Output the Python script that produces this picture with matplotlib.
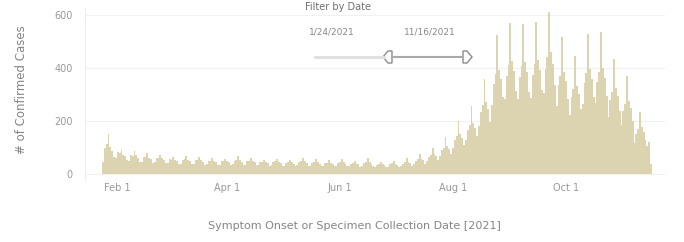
import matplotlib
matplotlib.use("Agg")
import matplotlib.pyplot as plt
from matplotlib.lines import Line2D
from matplotlib.patches import Polygon
import pandas as pd

plt.rcParams['font.family'] = ['DejaVu Sans']

start_date = "2021-01-24"
end_date = "2021-11-16"

# daily confirmed cases, one row per week (Sun..Sat)
weekly_rows = [
    [45, 98, 112, 150, 104, 88, 66],
    [60, 82, 78, 92, 74, 68, 52],
    [50, 72, 68, 86, 72, 62, 46],
    [46, 66, 63, 80, 62, 57, 43],
    [44, 62, 60, 74, 60, 54, 41],
    [42, 57, 54, 64, 53, 50, 39],
    [40, 54, 56, 70, 54, 48, 37],
    [39, 52, 54, 66, 52, 47, 35],
    [38, 50, 51, 62, 50, 46, 34],
    [36, 48, 49, 58, 48, 44, 33],
    [37, 51, 53, 68, 52, 46, 34],
    [36, 49, 51, 62, 50, 44, 33],
    [33, 45, 47, 54, 46, 42, 31],
    [34, 46, 48, 58, 47, 42, 32],
    [32, 43, 45, 52, 44, 40, 30],
    [33, 45, 49, 60, 48, 42, 31],
    [32, 43, 46, 56, 45, 40, 30],
    [30, 41, 43, 52, 42, 38, 29],
    [31, 42, 45, 56, 44, 39, 29],
    [29, 39, 41, 50, 40, 37, 28],
    [30, 41, 45, 60, 44, 38, 29],
    [27, 36, 38, 46, 38, 34, 26],
    [28, 37, 41, 50, 40, 35, 27],
    [30, 40, 46, 62, 47, 41, 32],
    [37, 50, 57, 77, 58, 52, 40],
    [48, 65, 74, 100, 76, 67, 52],
    [70, 91, 100, 140, 105, 95, 77],
    [100, 130, 145, 200, 150, 136, 110],
    [129, 168, 186, 258, 194, 175, 142],
    [180, 234, 259, 360, 270, 245, 198],
    [262, 341, 378, 525, 394, 357, 289],
    [285, 370, 410, 570, 428, 388, 313],
    [282, 367, 407, 565, 424, 384, 311],
    [288, 374, 414, 575, 431, 391, 316],
    [306, 398, 440, 612, 459, 416, 337],
    [258, 335, 371, 515, 386, 350, 283],
    [222, 289, 320, 445, 334, 303, 245],
    [264, 343, 380, 528, 396, 359, 290],
    [268, 348, 385, 535, 401, 364, 294],
    [216, 281, 311, 432, 324, 294, 238],
    [184, 239, 265, 368, 276, 250, 202],
    [118, 153, 170, 236, 177, 160, 130],
    [105, 120, 40],
]
cases = [v for row in weekly_rows for v in row]
dates = pd.date_range(start_date, end_date, freq="D")

y_ticks = [0, 200, 400, 600]
x_tick_dates = ["2021-02-01", "2021-04-01", "2021-06-01", "2021-08-01", "2021-10-01"]
x_tick_labels = ["Feb 1", "Apr 1", "Jun 1", "Aug 1", "Oct 1"]

W, H = 684, 242
fig = plt.figure(figsize=(W / 100, H / 100), dpi=100)
ax = fig.add_axes([85 / W, 1 - 180 / H, 580 / W, 172 / H])

ax.bar(dates, cases, width=1.0, color="#dcd4b1", linewidth=0)

ax.set_xlim(pd.Timestamp(start_date) - pd.Timedelta(days=9.7),
            pd.Timestamp(start_date) + pd.Timedelta(days=303.5))
ax.set_ylim(-22, 626)
ax.set_yticks(y_ticks)
ax.set_yticklabels([str(t) for t in y_ticks])
ax.set_xticks([pd.Timestamp(d) for d in x_tick_dates])
ax.set_xticklabels(x_tick_labels)
ax.tick_params(axis="y", length=0, labelsize=7, colors="#999999", pad=9)
ax.tick_params(axis="x", length=0, labelsize=7, colors="#999999", pad=2)
ax.grid(axis="y", color="#f1f1f1", linewidth=0.8)
ax.set_axisbelow(True)
for s in ["top", "right", "bottom"]:
    ax.spines[s].set_visible(False)
ax.spines["left"].set_color("#eeeeee")
ax.spines["left"].set_linewidth(0.8)


def px(x, y):
    return (x / W, 1 - y / H)


fig.text(*px(22, 90), "# of Confirmed Cases", fontsize=8.5, color="#858585",
         rotation=90, ha="center", va="center")
fig.text(*px(208, 226), "Symptom Onset or Specimen Collection Date [2021]", fontsize=8,
         color="#858585", ha="left", va="center")

# Date filter widget
fig.text(*px(338, 7), "Filter by Date", fontsize=7, color="#6f6f6f", ha="center", va="center")
fig.text(*px(332, 32), "1/24/2021", fontsize=6.5, color="#888888", ha="center", va="center")
fig.text(*px(430, 32), "11/16/2021", fontsize=6.5, color="#888888", ha="center", va="center")
x0, y0 = px(315, 57)
x1, _ = px(384, 57)
fig.add_artist(Line2D([x0, x1], [y0, y0], color="#e0e0e0", linewidth=2.2, transform=fig.transFigure))
x2, _ = px(392, 57)
x3, _ = px(462, 57)
fig.add_artist(Line2D([x2, x3], [y0, y0], color="#aaaaaa", linewidth=1.5, transform=fig.transFigure))


def handle(cx, cy, direction):
    s = direction
    pts = [(cx - 6 * s, cy), (cx - 1 * s, cy - 6), (cx + 3 * s, cy - 6),
           (cx + 3 * s, cy + 6), (cx - 1 * s, cy + 6)]
    pts = [px(a, b) for a, b in pts]
    fig.add_artist(Polygon(pts, closed=True, facecolor="white", edgecolor="#8c8c8c",
                           linewidth=1.0, transform=fig.transFigure))


handle(389, 57, 1)
handle(466, 57, -1)

fig.savefig("out.png", dpi=100)
